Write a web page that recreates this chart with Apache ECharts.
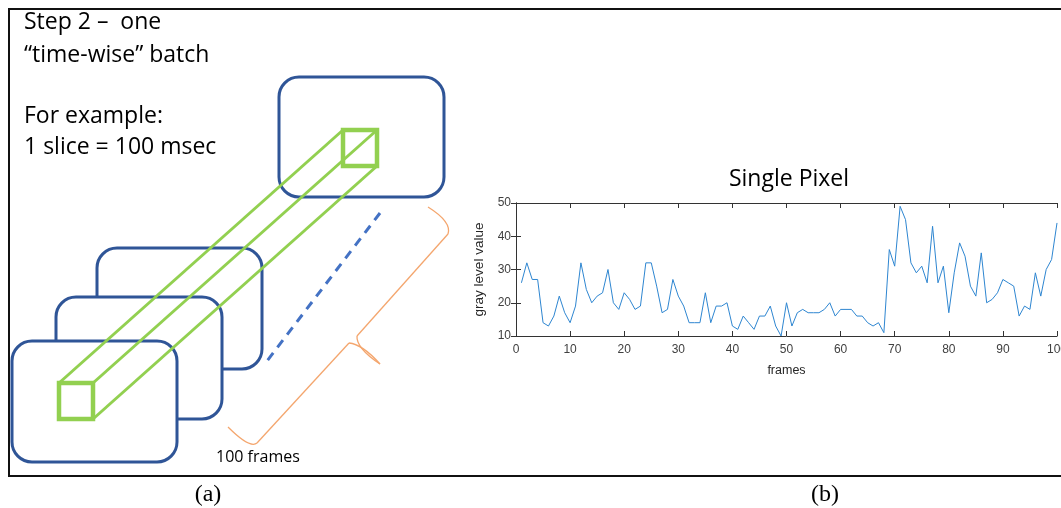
<!DOCTYPE html>
<html>
<head>
<meta charset="utf-8">
<title>Single Pixel</title>
<script src="https://cdn.jsdelivr.net/npm/echarts@6/dist/echarts.min.js"></script>
<style>
  html, body { margin: 0; padding: 0; background: #ffffff; }
  #chart { width: 1061px; height: 508px; }
</style>
</head>
<body>
<div id="chart"></div>
<script>
// Gray level of one pixel across 100 consecutive frames
const grayLevels = [
  26, 32, 27, 27, 14, 13, 16, 22, 17, 14,
  19, 32, 24, 20, 22, 23, 30, 20, 18, 23,
  21, 18, 19, 32, 32, 25, 17, 18, 27, 22,
  19, 14, 14, 14, 23, 14, 19, 19, 20, 13,
  12, 16, 14, 12, 16, 16, 19, 13, 10, 20,
  13, 17, 18, 17, 17, 17, 18, 20, 16, 18,
  18, 18, 16, 16, 14, 13, 14, 11, 36, 31,
  49, 45, 32, 29, 31, 26, 43, 26, 31, 17,
  29, 38, 34, 25, 22, 35, 20, 21, 23, 27,
  26, 25, 16, 19, 18, 29, 22, 30, 33, 44
];
const firstFrame = 1;
const xRange = [0, 100];
const xStep = 10;
const yRange = [10, 50];
const yStep = 10;

const chartTitle = 'Single Pixel';
const xName = 'frames';
const yName = 'gray level value';
const panelTexts = ['Step 2 \u2013  one', '\u201Ctime-wise\u201D batch', 'For example:', '1 slice = 100 msec'];
const braceText = '100 frames';
const captions = ['(a)', '(b)'];

// [frame number, gray level] pairs
const seriesData = grayLevels.map((v, i) => [firstFrame + i, v]);

const SANS = '"Open Sans", Lato, sans-serif';
const AXIS_FONT = '"Liberation Sans", Arial, sans-serif';
const SERIF = '"Liberation Serif", "Times New Roman", serif';
const FRAME_BLUE = '#2F5597';
const GREEN = '#92D050';
const ORANGE = '#F4A66E';
const AXIS_COLOR = '#333333';

// Rounded video frames, back to front
function frameRect(x, y, w, h) {
  return {
    type: 'rect',
    shape: { x: x, y: y, width: w, height: h, r: 20 },
    style: { fill: '#ffffff', stroke: FRAME_BLUE, lineWidth: 3 }
  };
}

function panelText(text, x, y, size) {
  return {
    type: 'text',
    style: { text: text, x: x, y: y, font: size + 'px ' + SANS, fill: '#000', textVerticalAlign: 'middle' }
  };
}

function braceLine(x1, y1, x2, y2) {
  return { type: 'line', shape: { x1: x1, y1: y1, x2: x2, y2: y2 }, style: { stroke: ORANGE, lineWidth: 1.3 } };
}

function braceCurve(x1, y1, cx, cy, x2, y2) {
  return {
    type: 'bezierCurve',
    shape: { x1: x1, y1: y1, cpx1: cx, cpy1: cy, x2: x2, y2: y2 },
    style: { stroke: ORANGE, lineWidth: 1.3, fill: 'none' }
  };
}

const diagram = [
  // outer panel border
  {
    type: 'rect',
    shape: { x: 9, y: 9, width: 1070, height: 467 },
    style: { fill: 'none', stroke: '#111111', lineWidth: 2 },
    z: 1
  },
  frameRect(279, 77, 165, 120),
  frameRect(97, 248, 165, 121),
  frameRect(56, 297, 166, 122),
  frameRect(12, 341, 165, 121),
  // dashed line hinting at the frames in between
  {
    type: 'line',
    shape: { x1: 380, y1: 213, x2: 267, y2: 361 },
    style: { stroke: '#4472C4', lineWidth: 3, lineDash: [9, 7] }
  },
  // pixel squares
  {
    type: 'rect',
    shape: { x: 343, y: 130, width: 34, height: 36 },
    style: { fill: 'none', stroke: GREEN, lineWidth: 4.5 }
  },
  {
    type: 'rect',
    shape: { x: 59, y: 383, width: 34, height: 36 },
    style: { fill: 'none', stroke: GREEN, lineWidth: 4.5 }
  },
  // edges of the pixel tube through time
  { type: 'line', shape: { x1: 343, y1: 130, x2: 59, y2: 383 }, style: { stroke: GREEN, lineWidth: 3 } },
  { type: 'line', shape: { x1: 377, y1: 130, x2: 93, y2: 383 }, style: { stroke: GREEN, lineWidth: 3 } },
  { type: 'line', shape: { x1: 377, y1: 166, x2: 93, y2: 419 }, style: { stroke: GREEN, lineWidth: 3 } },
  // brace spanning the batch
  braceCurve(428, 207, 452, 222, 448, 234),
  braceLine(448, 234, 357, 336),
  braceCurve(357, 336, 356, 348, 380, 364),
  braceCurve(380, 364, 362, 344, 349, 343),
  braceLine(349, 343, 257, 443),
  braceCurve(257, 443, 250, 449, 228, 427),
  // panel texts
  panelText(panelTexts[0], 24, 22, 23),
  panelText(panelTexts[1], 24, 55, 23),
  panelText(panelTexts[2], 24, 116, 23),
  panelText(panelTexts[3], 24, 147, 23),
  panelText(braceText, 216, 457, 16),
  { type: 'text', style: { text: captions[0], x: 208, y: 495, font: '24px ' + SERIF, fill: '#000', textAlign: 'center', textVerticalAlign: 'middle' } },
  { type: 'text', style: { text: captions[1], x: 825, y: 495, font: '24px ' + SERIF, fill: '#000', textAlign: 'center', textVerticalAlign: 'middle' } }
];

const chart = echarts.init(document.getElementById('chart'), null, { renderer: 'canvas' });

const tickInside = { show: true, inside: true, length: 5, lineStyle: { color: AXIS_COLOR, width: 1 } };
const axisLine = { show: true, lineStyle: { color: AXIS_COLOR, width: 1 } };

chart.setOption({
  backgroundColor: '#ffffff',
  animation: false,
  title: {
    text: chartTitle,
    left: 784,
    top: 163,
    textAlign: 'center',
    textStyle: { fontFamily: SANS, fontSize: 23, fontWeight: 'normal', color: '#000' }
  },
  grid: {
    left: 516, top: 203, right: 4, bottom: 172,
    outerBoundsMode: 'none'
  },
  xAxis: [
    {
      type: 'value', min: xRange[0], max: xRange[1], interval: xStep, position: 'bottom',
      axisLine: axisLine, axisTick: tickInside, splitLine: { show: false },
      axisLabel: { color: '#404040', fontFamily: AXIS_FONT, fontSize: 12, margin: 8 },
      name: xName, nameLocation: 'middle', nameGap: 28,
      nameTextStyle: { color: '#262626', fontFamily: AXIS_FONT, fontSize: 12.5 }
    },
    {
      type: 'value', min: xRange[0], max: xRange[1], interval: xStep, position: 'top',
      axisLine: axisLine, axisTick: tickInside, splitLine: { show: false },
      axisLabel: { show: false }
    }
  ],
  yAxis: [
    {
      type: 'value', min: yRange[0], max: yRange[1], interval: yStep, position: 'left',
      axisLine: axisLine, axisTick: tickInside, splitLine: { show: false },
      axisLabel: { color: '#404040', fontFamily: AXIS_FONT, fontSize: 12, margin: 5 },
      name: yName, nameLocation: 'middle', nameGap: 21,
      nameTextStyle: { color: '#262626', fontFamily: AXIS_FONT, fontSize: 13.5 }
    },
    {
      type: 'value', min: yRange[0], max: yRange[1], interval: yStep, position: 'right',
      axisLine: axisLine, axisTick: tickInside, splitLine: { show: false },
      axisLabel: { show: false }
    }
  ],
  series: [
    {
      type: 'line',
      data: seriesData,
      showSymbol: false,
      symbol: 'none',
      lineStyle: { color: '#2E86D1', width: 1 },
      clip: false,
      z: 3
    }
  ],
  graphic: diagram
});
</script>
</body>
</html>
